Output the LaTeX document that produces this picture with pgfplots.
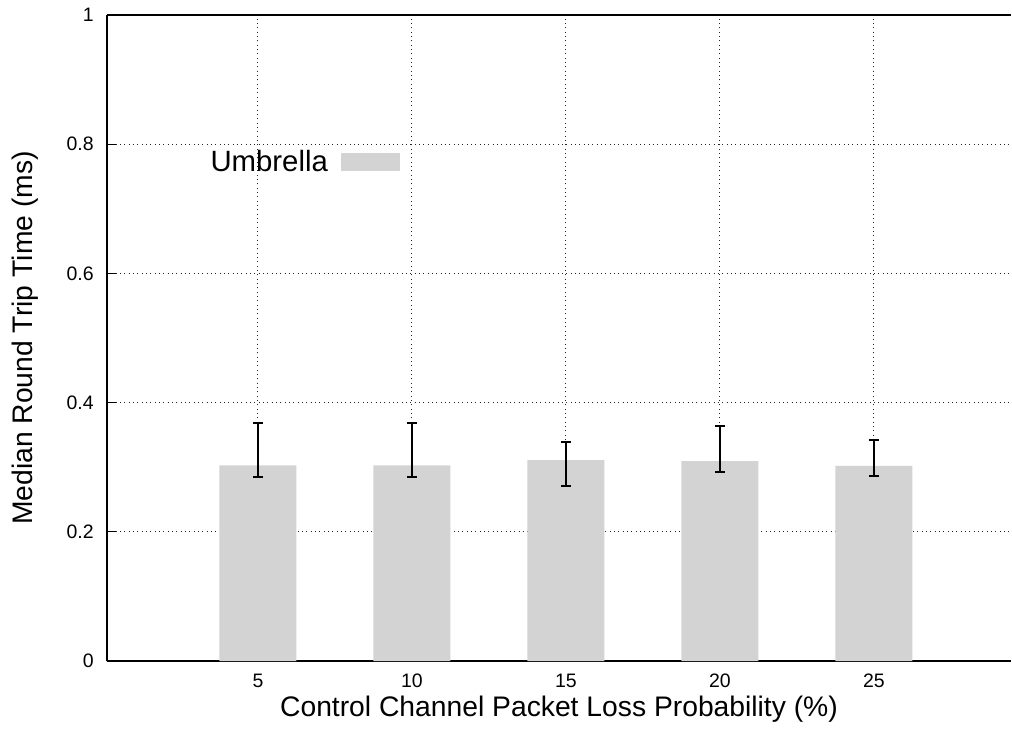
\documentclass[border=0pt]{standalone}
\usepackage{fontspec}
\setmainfont{Liberation Sans}
\usepackage{pgfplots}
\usepackage{pgfplotstable}
\pgfplotsset{compat=1.18}
\definecolor{barcol}{RGB}{211,211,211}
\pgfplotstableread{
x y ep em
0 0.3030 0.0650 0.0180
1 0.3030 0.0650 0.0180
2 0.3110 0.0275 0.0400
3 0.3096 0.0542 0.0170
4 0.3019 0.0407 0.0155
}\data
\begin{document}
\begin{tikzpicture}
\useasboundingbox (-80.25pt,-50.25pt) rectangle (678.75pt,495.75pt);
\begin{axis}[
  at={(0pt,0pt)}, anchor=south west,
  scale only axis,
  width=678pt, height=484.5pt,
  xmin=-0.98, xmax=4.89, ymin=0, ymax=1,
  axis x line*=box, axis y line*=left,
  axis line style={line width=1pt, black},
  xtick={0,1,2,3,4}, xticklabels={5,10,15,20,25},
  ytick={0,0.2,0.4,0.6,0.8,1}, yticklabels={0,0.2,0.4,0.6,0.8,1},
  xtick pos=bottom, ytick pos=left,
  tick align=inside,
  major tick length=7pt,
  x tick style={draw=none},
  y tick style={line width=1pt, black},
  grid=major,
  major grid style={black!85, line width=0.7pt, dash pattern=on 0.8pt off 2.45pt},
  /pgf/number format/assume math mode=true,
  tick label style={font=\fontsize{14.6}{17}\selectfont},
  yticklabel style={inner sep=0pt, anchor=east, xshift=-9.75pt},
  xticklabel style={inner sep=0pt, anchor=north, yshift=-9.75pt},
  xlabel={Control Channel Packet Loss Probability (\%)},
  ylabel={Median Round Trip Time (ms)},
  label style={font=\fontsize{21.2}{25}\selectfont},
  xlabel style={at={(axis description cs:0.5,-0.0743)}, anchor=center, inner sep=0pt},
  ylabel style={at={(axis description cs:-0.0907,0.5)}, anchor=center, inner sep=0pt},
  legend style={at={(rel axis cs:0.324,0.773)}, anchor=east, draw=none, fill=none,
    inner sep=0pt, outer sep=0pt, font=\fontsize{22}{26}\selectfont,
    nodes={inner sep=0pt},
    /tikz/every odd column/.append style={column sep=9.75pt}},
  legend plot pos=right,
]
\addplot[ybar, bar width=57.75pt, fill=barcol, draw=none,
  legend image code/.code={\fill[barcol] (0pt,-6.75pt) rectangle (44.25pt,6.75pt);},
  error bars/.cd, y dir=both, y explicit,
  error bar style={line width=1.5pt, black},
  error mark options={rotate=90, mark size=3.5pt, line width=1.5pt, black}]
  table[x=x, y=y, y error plus=ep, y error minus=em] {\data};
\addlegendentry{Umbrella}
\end{axis}
\end{tikzpicture}
\end{document}
